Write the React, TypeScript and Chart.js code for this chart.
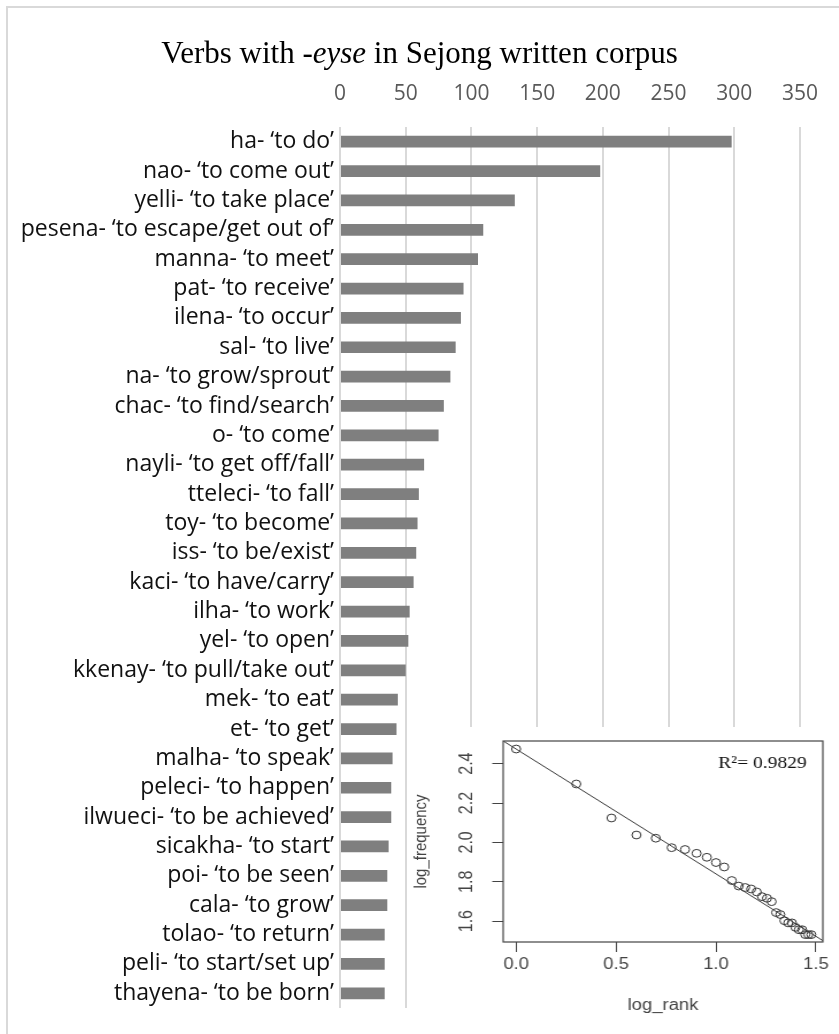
import React, { useEffect, useRef } from "react";
import { Chart, registerables } from "chart.js";

Chart.register(...registerables);

// Verbs taking -eyse, ordered by frequency
const verbs = [
  "ha- ‘to do’",
  "nao- ‘to come out’",
  "yelli- ‘to take place’",
  "pesena- ‘to escape/get out of’",
  "manna- ‘to meet’",
  "pat- ‘to receive’",
  "ilena- ‘to occur’",
  "sal- ‘to live’",
  "na- ‘to grow/sprout’",
  "chac- ‘to find/search’",
  "o- ‘to come’",
  "nayli- ‘to get off/fall’",
  "tteleci- ‘to fall’",
  "toy- ‘to become’",
  "iss- ‘to be/exist’",
  "kaci- ‘to have/carry’",
  "ilha- ‘to work’",
  "yel- ‘to open’",
  "kkenay- ‘to pull/take out’",
  "mek- ‘to eat’",
  "et- ‘to get’",
  "malha- ‘to speak’",
  "peleci- ‘to happen’",
  "ilwueci- ‘to be achieved’",
  "sicakha- ‘to start’",
  "poi- ‘to be seen’",
  "cala- ‘to grow’",
  "tolao- ‘to return’",
  "peli- ‘to start/set up’",
  "thayena- ‘to be born’",
];

const frequencies = [
  298, 198, 133, 109, 105, 94, 92, 88, 84, 79, 75, 64, 60, 59, 58, 56, 53, 52,
  50, 44, 43, 40, 39, 39, 37, 36, 36, 34, 34, 34,
];

// Frequency axis
const freqMin = 0;
const freqMax = 350;
const freqStep = 50;

// Log-log inset (rank vs frequency)
const logRankTicks = [0, 0.5, 1.0, 1.5];
const logFreqTicks = [1.6, 1.8, 2.0, 2.2, 2.4];
const logRankRange = [-0.065, 1.535];
const logFreqRange = [1.494, 2.515];
const fitIntercept = 2.474;
const fitSlope = -0.634;
const rSquaredLabel = "R²= 0.9829";

const LABEL_FONT = "'Open Sans', 'Noto Sans', sans-serif";
const R_FONT = "'Liberation Sans', Arial, sans-serif";
const SERIF = "'Liberation Serif', 'Times New Roman', serif";

// the inset plot is a slightly widened figure
const INSET_W = 373;
const INSET_H = 307;
const INSET_STRETCH = 1.15;

export default function App() {
  const mainRef = useRef<HTMLCanvasElement>(null);
  const insetRef = useRef<HTMLCanvasElement>(null);

  useEffect(() => {
    document.body.style.margin = "0";

    const main = new Chart(mainRef.current!, {
      type: "bar",
      data: {
        labels: verbs,
        datasets: [
          {
            data: frequencies,
            backgroundColor: "#7f7f7f",
            barPercentage: 0.4,
            categoryPercentage: 1,
          },
        ],
      },
      options: {
        indexAxis: "y",
        animation: false,
        responsive: false,
        maintainAspectRatio: false,
        layout: { padding: { left: 0, top: 0, right: 39, bottom: 26 } },
        plugins: { legend: { display: false }, tooltip: { enabled: false } },
        scales: {
          x: {
            position: "top",
            min: freqMin,
            max: freqMax,
            ticks: {
              stepSize: freqStep,
              color: "#595959",
              font: { family: LABEL_FONT, size: 21 },
              padding: 20,
            },
            grid: { color: "#d9d9d9", lineWidth: 2, drawTicks: false },
            border: { display: false },
            afterFit: (s: any) => {
              s.height = 127;
            },
          },
          y: {
            ticks: {
              color: "#111",
              font: { family: LABEL_FONT, size: 23 },
              padding: 6,
              autoSkip: false,
            },
            grid: { display: false, drawTicks: false },
            border: { display: false },
            afterFit: (s: any) => {
              s.width = 340;
            },
          },
        },
      },
    });

    const scatterPoints = frequencies.map((f, i) => ({
      x: Math.log10(i + 1),
      y: Math.log10(f),
    }));
    const fitLine = logRankRange.map((x) => ({ x, y: fitIntercept + fitSlope * x }));

    const insetDecor = {
      id: "insetDecor",
      afterDraw(chart: any) {
        const { ctx, chartArea, scales } = chart;
        ctx.save();
        // frame around plot region
        ctx.strokeStyle = "#444";
        ctx.lineWidth = 1.2;
        ctx.strokeRect(
          chartArea.left,
          chartArea.top,
          chartArea.right - chartArea.left,
          chartArea.bottom - chartArea.top
        );
        // y tick labels written parallel to the axis
        ctx.fillStyle = "#444";
        ctx.font = `16px ${R_FONT}`;
        ctx.textAlign = "center";
        ctx.textBaseline = "middle";
        for (const v of logFreqTicks) {
          const py = scales.y.getPixelForValue(v);
          ctx.save();
          ctx.translate(chartArea.left - 31, py);
          ctx.rotate(-Math.PI / 2);
          ctx.fillText(v.toFixed(1), 0, 0);
          ctx.restore();
        }
        // goodness of fit
        ctx.fillStyle = "#111";
        ctx.font = `17px ${SERIF}`;
        ctx.textAlign = "right";
        ctx.textBaseline = "alphabetic";
        ctx.fillText(rSquaredLabel, chartArea.right - 14, chartArea.top + 27);
        ctx.restore();
      },
    };

    const inset = new Chart(insetRef.current!, {
      type: "scatter",
      data: {
        datasets: [
          {
            type: "line",
            data: fitLine,
            borderColor: "#3a3a3a",
            borderWidth: 1,
            pointRadius: 0,
            fill: false,
          } as any,
          {
            data: scatterPoints,
            pointRadius: 3.9,
            borderColor: "#333",
            borderWidth: 1,
            backgroundColor: "rgba(0,0,0,0)",
          },
        ],
      },
      options: {
        animation: false,
        responsive: false,
        maintainAspectRatio: false,
        layout: { padding: { left: 0, top: 14, right: 14, bottom: 0 } },
        plugins: { legend: { display: false }, tooltip: { enabled: false } },
        scales: {
          x: {
            type: "linear",
            min: logRankRange[0],
            max: logRankRange[1],
            afterBuildTicks: (s: any) => {
              s.ticks = logRankTicks.map((value) => ({ value }));
            },
            ticks: {
              callback: (v: any) => Number(v).toFixed(1),
              color: "#444",
              font: { family: R_FONT, size: 16 },
              padding: 3,
            },
            grid: {
              drawOnChartArea: false,
              drawTicks: true,
              tickLength: 10,
              color: "#444",
              lineWidth: 1,
            },
            border: { display: false },
            title: {
              display: true,
              text: "log_rank",
              color: "#444",
              font: { family: R_FONT, size: 16 },
              padding: { top: 0, bottom: 19 },
            },
            afterFit: (s: any) => {
              s.height = 92;
            },
          },
          y: {
            type: "linear",
            min: logFreqRange[0],
            max: logFreqRange[1],
            afterBuildTicks: (s: any) => {
              s.ticks = logFreqTicks.map((value) => ({ value }));
            },
            ticks: { display: false },
            grid: {
              drawOnChartArea: false,
              drawTicks: true,
              tickLength: 9.5,
              color: "#444",
              lineWidth: 1,
            },
            border: { display: false },
            title: {
              display: true,
              text: "log_frequency",
              color: "#444",
              font: { family: R_FONT, size: 15 },
              padding: { top: 1, bottom: 0 },
            },
            afterFit: (s: any) => {
              s.width = 81;
            },
          },
        },
      },
      plugins: [insetDecor],
    });

    return () => {
      main.destroy();
      inset.destroy();
    };
  }, []);

  return (
    <div style={{ position: "relative", width: 839, height: 1034, background: "#fff", overflow: "hidden" }}>
      <div
        style={{
          position: "absolute",
          left: 6,
          top: 6,
          right: 0,
          bottom: 0,
          borderTop: "2px solid #d9d9d9",
          borderLeft: "2px solid #d9d9d9",
        }}
      />
      <canvas
        ref={mainRef}
        width={839}
        height={1034}
        style={{ position: "absolute", left: 0, top: 0 }}
      />
      <div
        style={{
          position: "absolute",
          left: 0,
          top: 37,
          width: 839,
          textAlign: "center",
          fontFamily: SERIF,
          fontSize: 31,
          lineHeight: "31px",
          color: "#000",
          whiteSpace: "nowrap",
        }}
      >
        Verbs with -<i>eyse</i> in Sejong written corpus
      </div>
      <canvas
        ref={insetRef}
        width={INSET_W}
        height={INSET_H}
        style={{
          position: "absolute",
          left: 410,
          top: 727,
          width: INSET_W,
          height: INSET_H,
          background: "#fff",
          transform: `scaleX(${INSET_STRETCH})`,
          transformOrigin: "0 0",
          filter: "blur(0.3px)",
        }}
      />
    </div>
  );
}
